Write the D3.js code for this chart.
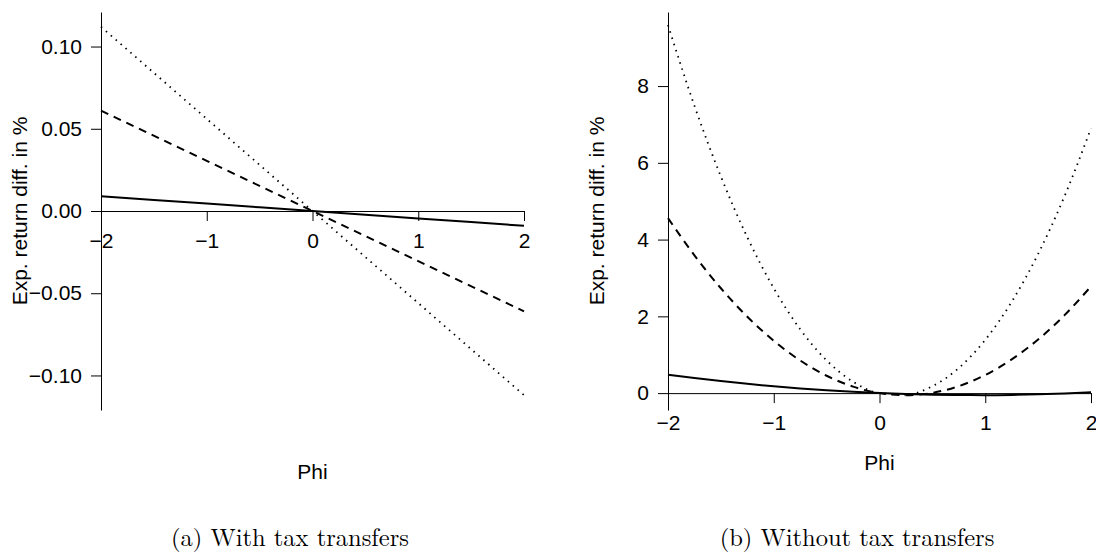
<!DOCTYPE html>
<html>
<head>
<meta charset="utf-8">
<script src="https://cdn.jsdelivr.net/npm/d3@7"></script>
<style>
  body { margin: 0; background: #fff; }
  text { fill: #000; }
</style>
</head>
<body>
<div id="main"></div>
<script>
// panel (a): with tax transfers, straight lines through the origin
let phiA = [-2, -1, 0, 1, 2]
let solidA = [0.009, 0.0045, 0, -0.0045, -0.009]
let dashedA = [0.061, 0.0305, 0, -0.0305, -0.061]
let dottedA = [0.112, 0.056, 0, -0.056, -0.112]

// panel (b): without tax transfers
let phiB = [-2, -1.75, -1.5, -1.25, -1, -0.75, -0.5, -0.25, 0, 0.25, 0.5, 0.75, 1, 1.25, 1.5, 1.75, 2]
let solidB = [0.48, 0.393, 0.313, 0.241, 0.178, 0.121, 0.073, 0.033, 0, -0.025, -0.042, -0.051, -0.053, -0.046, -0.032, -0.010, 0.02]
let dashedB = [4.56, 3.589, 2.732, 1.99, 1.363, 0.85, 0.452, 0.169, 0, -0.054, 0.007, 0.182, 0.473, 0.878, 1.397, 2.031, 2.78]
let dottedB = [9.59, 7.486, 5.644, 4.06, 2.733, 1.663, 0.851, 0.297, 0, -0.039, 0.179, 0.655, 1.388, 2.378, 3.626, 5.132, 6.90]

let xTicks = [-2, -1, 0, 1, 2]
let yTicksA = [-0.10, -0.05, 0, 0.05, 0.10]
let yTicksB = [0, 2, 4, 6, 8]

let xTitle = 'Phi'
let yTitle = 'Exp. return diff. in %'
let captions = ['(a) With tax transfers', '(b) Without tax transfers']

let width = 1096
let height = 554
let plotTop = 12
let plotBottom = 410
let sans = '"Liberation Sans", Arial, Helvetica, sans-serif'

let svg = d3.select('#main').append('svg')
    .attr('width', width)
    .attr('height', height)

const styleAxis = (g) => {
    g.attr('font-family', sans).attr('font-size', 21)
    g.selectAll('path.domain').attr('stroke', '#000').attr('stroke-width', 1)
    g.selectAll('.tick line').attr('stroke', '#000').attr('stroke-width', 1)
    g.selectAll('.tick text').attr('fill', '#000')
}

const drawPanel = (p) => {
    let xScale = d3.scaleLinear().domain([-2, 2]).range([p.left, p.left + 423])
    let yScale = d3.scaleLinear().domain(p.yDomain).range([plotBottom, plotTop])

    let yAxis = d3.axisLeft(yScale)
        .tickValues(p.yTicks)
        .tickFormat(p.yFormat)
        .tickSize(10)
        .tickSizeOuter(0)
        .tickPadding(9)
    svg.append('g')
        .attr('transform', `translate(${p.left}, 0)`)
        .call(yAxis)
        .call(styleAxis)

    let xAxis = d3.axisBottom(xScale)
        .tickValues(xTicks)
        .tickFormat(d3.format('d'))
        .tickSize(10)
        .tickSizeOuter(0)
        .tickPadding(12)
    svg.append('g')
        .attr('transform', `translate(0, ${yScale(0)})`)
        .call(xAxis)
        .call(styleAxis)

    let series = [
        { values: p.solid, dash: null, width: 2 },
        { values: p.dashed, dash: '8,6', width: 2 },
        { values: p.dotted, dash: '1.5,5', width: 1.8 }
    ]
    let line = d3.line()
        .x(d => xScale(d[0]))
        .y(d => yScale(d[1]))
        .curve(d3.curveMonotoneX)

    series.forEach(s => {
        svg.append('path')
            .datum(p.phi.map((v, i) => [v, s.values[i]]))
            .attr('fill', 'none')
            .attr('stroke', '#000')
            .attr('stroke-width', s.width)
            .attr('stroke-dasharray', s.dash)
            .attr('d', line)
    })

    svg.append('text')
        .attr('transform', `translate(${p.yTitleX}, ${(plotTop + plotBottom) / 2}) rotate(-90)`)
        .attr('text-anchor', 'middle')
        .attr('font-family', sans)
        .attr('font-size', 21)
        .text(yTitle)

    svg.append('text')
        .attr('x', xScale(0))
        .attr('y', p.xTitleY)
        .attr('text-anchor', 'middle')
        .attr('font-family', sans)
        .attr('font-size', 21)
        .text(xTitle)

    svg.append('text')
        .attr('x', p.captionX)
        .attr('y', 546)
        .attr('text-anchor', 'middle')
        .attr('font-family', '"Latin Modern Roman", "Liberation Serif", "DejaVu Serif", serif')
        .attr('font-size', 24.5)
        .text(p.caption)
}

drawPanel({
    left: 101, yDomain: [-0.121, 0.121], yTicks: yTicksA, yFormat: d3.format('.2f'),
    phi: phiA, solid: solidA, dashed: dashedA, dotted: dottedA,
    yTitleX: 27, xTitleY: 479, captionX: 290, caption: captions[0]
})

drawPanel({
    left: 668, yDomain: [-0.44, 9.93], yTicks: yTicksB, yFormat: d3.format('d'),
    phi: phiB, solid: solidB, dashed: dashedB, dotted: dottedB,
    yTitleX: 604, xTitleY: 470, captionX: 857, caption: captions[1]
})
</script>
</body>
</html>
